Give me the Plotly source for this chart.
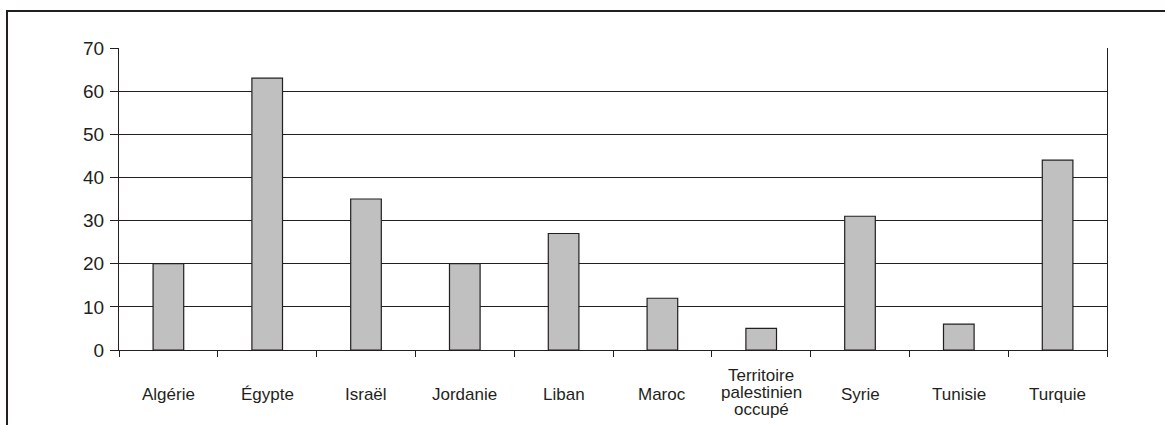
import plotly.graph_objects as go

# Categories and values
countries = ["Algérie", "Égypte", "Israël", "Jordanie", "Liban", "Maroc",
             "Territoire\npalestinien\noccupé", "Syrie", "Tunisie", "Turquie"]
values = [20, 63, 35, 20, 27, 12, 5, 31, 6, 44]
y_ticks = [0, 10, 20, 30, 40, 50, 60, 70]

W, H = 1165, 425
L, R, T, B = 119, 58, 48, 75
pw, ph = W - L - R, H - T - B

font = "Liberation Sans, Arial, sans-serif"
ink = "#231f20"

cats = [c.replace("\n", " ") for c in countries]

fig = go.Figure(go.Bar(
    x=cats, y=values,
    width=0.31,
    marker=dict(color="#c0c0c0", line=dict(color=ink, width=1.2)),
))

# Category labels, one annotation per text line, centred below the axis
line_h = 17
for cat, label in zip(cats, countries):
    lines = label.split("\n")
    n = len(lines)
    for i, ln in enumerate(lines):
        fig.add_annotation(
            x=cat, xref="x", y=0, yref="paper",
            text=ln, showarrow=False, borderpad=0,
            yanchor="middle", xanchor="center",
            yshift=-44 + (2 if n > 1 else 0) - (i - (n - 1) / 2) * line_h,
            font=dict(family=font, size=17, color=ink),
        )

# Outer frame
fig.add_shape(
    type="rect", xref="paper", yref="paper",
    x0=(7 - L) / pw, x1=(W + 20 - L) / pw,
    y0=-(H + 20 - (H - B)) / ph, y1=1 + (T - 11) / ph,
    line=dict(color=ink, width=2), fillcolor="rgba(0,0,0,0)", layer="above",
)

fig.update_layout(
    width=W, height=H,
    margin=dict(l=L, r=R, t=T, b=B),
    paper_bgcolor="white", plot_bgcolor="white",
    showlegend=False,
    font=dict(family=font, color=ink),
    bargap=0.69,
)
fig.update_xaxes(
    type="category", showticklabels=False,
    showline=True, linecolor=ink, linewidth=1.2, mirror=False,
    ticks="outside", tickson="boundaries", ticklen=6, tickcolor=ink, tickwidth=1.2,
    showgrid=False, zeroline=False,
)
fig.update_yaxes(
    range=[0, 70], tickvals=y_ticks,
    showline=True, linecolor=ink, linewidth=1.2, mirror=True,
    ticks="outside", ticklen=8, tickcolor=ink, tickwidth=1.2,
    showgrid=True, gridcolor=ink, gridwidth=1.2, zeroline=False,
    tickfont=dict(family=font, size=19, color=ink),
    ticklabelstandoff=2,
)

fig.write_html("out.html")
